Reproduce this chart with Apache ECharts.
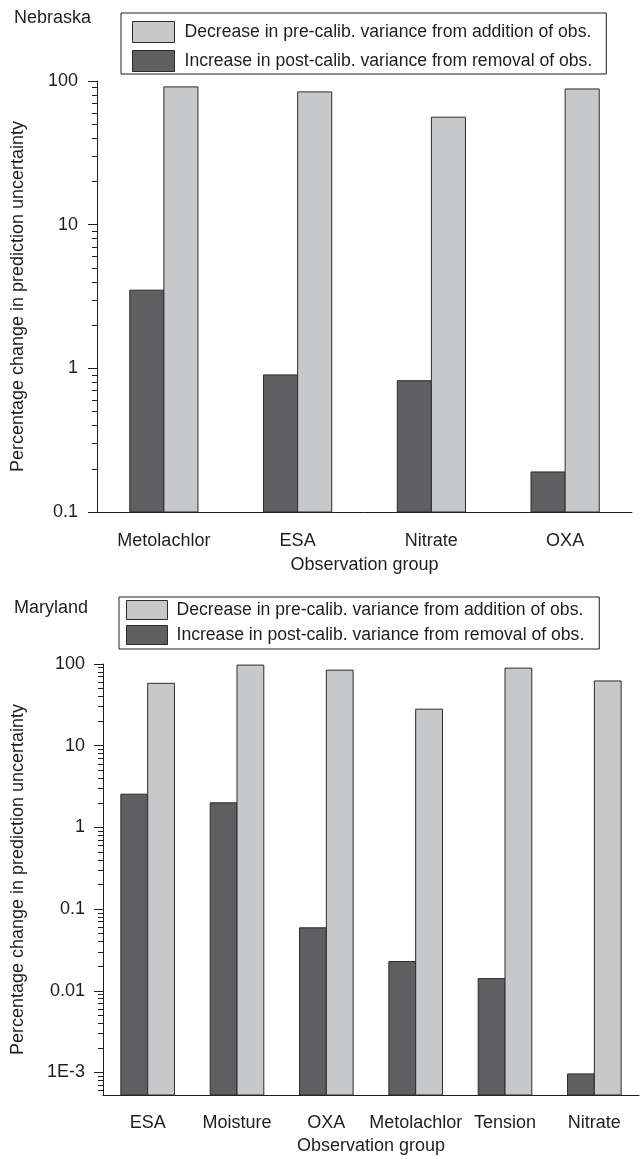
<!DOCTYPE html>
<html>
<head>
<meta charset="utf-8">
<title>Percentage change in prediction uncertainty</title>
<script src="https://cdn.jsdelivr.net/npm/echarts@6/dist/echarts.min.js"></script>
<style>
  html, body { margin: 0; padding: 0; background: #fff; }
  #chart { width: 641px; height: 1159px; }
</style>
</head>
<body>
<div id="chart"></div>
<script>
// Nebraska site: observation groups and percentage changes
const catsNE = ['Metolachlor', 'ESA', 'Nitrate', 'OXA'];
const preNE = [91, 84, 56, 88];          // decrease in pre-calibration variance
const postNE = [3.5, 0.9, 0.82, 0.19];   // increase in post-calibration variance

// Maryland site
const catsMD = ['ESA', 'Moisture', 'OXA', 'Metolachlor', 'Tension', 'Nitrate'];
const preMD = [58, 97, 84, 28, 89, 62];
const postMD = [2.55, 2.0, 0.059, 0.0228, 0.0141, 0.00096];

// Decade ticks (labelled) for each panel
const majorNE = [0.1, 1, 10, 100];
const majorMD = [0.001, 0.01, 0.1, 1, 10, 100];
const labelText = { 0.001: '1E-3', 0.01: '0.01', 0.1: '0.1', 1: '1', 10: '10', 100: '100' };

// Value ranges of the two log axes
const yRangeNE = [0.1, 100];
const yRangeMD = [0.00053, 100];

const preName = 'Decrease in pre-calib. variance from addition of obs.';
const postName = 'Increase in post-calib. variance from removal of obs.';

const LIGHT = '#c7c8ca';
const DARK = '#5f5f61';
const EDGE = '#2b2b2b';
const INK = '#1e1e1e';
const FONT = '"Liberation Sans", Arial, sans-serif';
const FS = 18;
const FS_LEGEND = 17.6;

// Unlabelled ticks at 2..9 within each decade
function minorTicks(range) {
  const out = [];
  const lo = Math.floor(Math.log10(range[0]));
  const hi = Math.ceil(Math.log10(range[1]));
  for (let e = lo; e < hi; e++) {
    const d = Math.pow(10, e);
    for (let m = 2; m <= 9; m++) {
      const v = +(m * d).toPrecision(6);
      if (v >= range[0] && v <= range[1]) out.push(v);
    }
  }
  return out;
}

// Bars grow from the bottom of the log axis; one half of the group on each side of the category centre
function barRenderer(side, frac, yMin) {
  return function (params, api) {
    const idx = api.value(0);
    const val = api.value(1);
    const top = api.coord([idx, val]);
    const base = api.coord([idx, yMin]);
    const w = api.size([1, 0])[0] * frac;
    const x = side < 0 ? top[0] - w : top[0];
    return {
      type: 'rect',
      shape: { x: x, y: top[1], width: w, height: base[1] - top[1] },
      style: { fill: api.visual('color'), stroke: EDGE, lineWidth: 1 }
    };
  };
}

function xAxesFor(gridIndex, cats, labelMargin, nameGap) {
  return [
    {
      type: 'category', gridIndex: gridIndex, data: cats, position: 'bottom',
      boundaryGap: true,
      name: 'Observation group', nameLocation: 'middle', nameGap: nameGap,
      nameMoveOverlap: false,
      nameTextStyle: { fontFamily: FONT, fontSize: FS, color: INK },
      axisLine: { onZero: false, lineStyle: { color: INK, width: 1 } },
      axisTick: { alignWithLabel: true, length: 10, lineStyle: { color: INK } },
      axisLabel: { fontFamily: FONT, fontSize: FS, color: INK, margin: labelMargin, interval: 0, hideOverlap: false },
      splitLine: { show: false }
    },
    {
      type: 'category', gridIndex: gridIndex, data: cats, position: 'bottom',
      boundaryGap: true,
      axisLine: { show: false, onZero: false },
      axisTick: { length: 5, lineStyle: { color: INK } },
      axisLabel: { show: false },
      splitLine: { show: false }
    }
  ];
}

function yAxesFor(gridIndex, range, major, nameGap, labelMargin) {
  return [
    {
      type: 'log', logBase: 10, gridIndex: gridIndex, min: range[0], max: range[1],
      position: 'left',
      name: 'Percentage change in prediction uncertainty',
      nameLocation: 'middle', nameRotate: 90, nameGap: nameGap,
      nameMoveOverlap: false,
      nameTextStyle: { fontFamily: FONT, fontSize: FS, color: INK },
      axisLine: { show: true, lineStyle: { color: INK, width: 1 } },
      axisTick: { show: true, length: 9, customValues: major, lineStyle: { color: INK } },
      axisLabel: {
        fontFamily: FONT, fontSize: FS, color: INK, margin: labelMargin,
        customValues: major,
        formatter: function (v) {
          const key = +(+v).toPrecision(6);
          return labelText[key] !== undefined ? labelText[key] : '';
        }
      },
      splitLine: { show: false }
    },
    {
      type: 'log', logBase: 10, gridIndex: gridIndex, min: range[0], max: range[1],
      position: 'left',
      axisLine: { show: false },
      axisTick: { show: true, length: 5, customValues: minorTicks(range), lineStyle: { color: INK } },
      axisLabel: { show: false },
      splitLine: { show: false }
    }
  ];
}

function barSeries(name, color, values, side, frac, gridAxis, yMin) {
  return {
    type: 'custom',
    name: name,
    xAxisIndex: gridAxis.x,
    yAxisIndex: gridAxis.y,
    itemStyle: { color: color, borderColor: EDGE, borderWidth: 1 },
    encode: { x: 0, y: 1 },
    data: values.map(function (v, i) { return [i, v]; }),
    renderItem: barRenderer(side, frac, yMin),
    clip: false
  };
}

function legendAt(left, top, padding, itemW, itemH, gap, textPad) {
  return {
    left: left, top: top, orient: 'vertical',
    selectedMode: false,
    icon: 'rect',
    itemWidth: itemW, itemHeight: itemH, itemGap: gap,
    padding: padding,
    borderColor: INK, borderWidth: 1,
    textStyle: { fontFamily: FONT, fontSize: FS_LEGEND, color: INK, padding: [0, 0, 0, textPad] },
    data: [
      { name: preName, itemStyle: { color: LIGHT, borderColor: EDGE, borderWidth: 1 } },
      { name: postName, itemStyle: { color: DARK, borderColor: EDGE, borderWidth: 1 } }
    ]
  };
}

const chart = echarts.init(document.getElementById('chart'), null, { renderer: 'canvas' });

const titleStyle = { fontFamily: FONT, fontSize: FS, fontWeight: 'normal', color: INK };

const option = {
  animation: false,
  backgroundColor: '#fff',
  title: [
    { text: 'Nebraska', left: 14, top: 9, padding: 0, textStyle: titleStyle },
    { text: 'Maryland', left: 14, top: 599, padding: 0, textStyle: titleStyle }
  ],
  legend: [
    legendAt(121, 13, [8, 14, 2, 11], 42, 21, 7, 5),
    legendAt(119, 597, [3, 15, 4, 7], 41, 19, 5, 4)
  ],
  grid: [
    { left: 97, top: 81, width: 535, height: 431, outerBoundsMode: 'none' },
    { left: 103, top: 664, width: 536, height: 431, outerBoundsMode: 'none' }
  ],
  xAxis: [].concat(
    xAxesFor(0, catsNE, 20, 44),
    xAxesFor(1, catsMD, 19, 42)
  ),
  yAxis: [].concat(
    yAxesFor(0, yRangeNE, majorNE, 70, 19),
    yAxesFor(1, yRangeMD, majorMD, 76, 18)
  ),
  series: [
    barSeries(postName, DARK, postNE, -1, 0.255, { x: 0, y: 0 }, yRangeNE[0]),
    barSeries(preName, LIGHT, preNE, 1, 0.255, { x: 0, y: 0 }, yRangeNE[0]),
    barSeries(postName, DARK, postMD, -1, 0.3, { x: 2, y: 2 }, yRangeMD[0]),
    barSeries(preName, LIGHT, preMD, 1, 0.3, { x: 2, y: 2 }, yRangeMD[0])
  ]
};

chart.setOption(option);
</script>
</body>
</html>
